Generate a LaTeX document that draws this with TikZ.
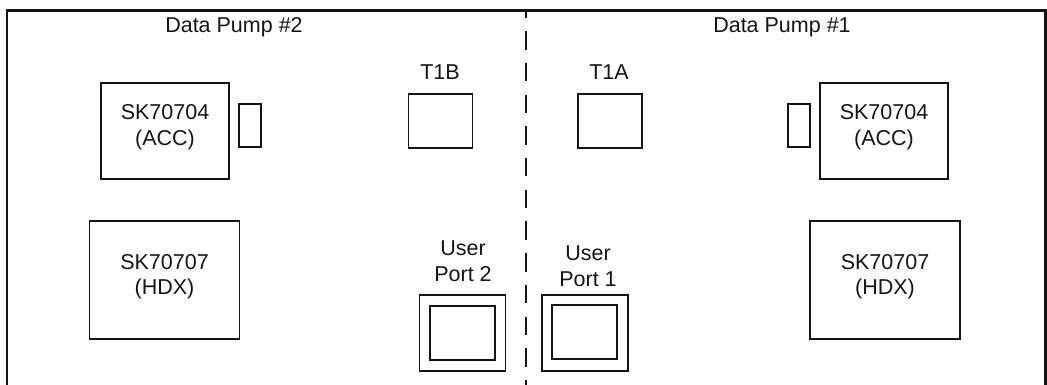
\documentclass[tikz,border=0pt]{standalone}
\usepackage{fontspec}
\setmainfont{Liberation Sans}
\usetikzlibrary{positioning}
\definecolor{Ink}{HTML}{141414}
\tikzset{
  frame/.style={draw=Ink,line width=2.3pt},
  split/.style={draw=Ink,line width=2.3pt,dash pattern=on 18.5pt off 13.2pt,dash phase=11pt},
  chip/.style={rectangle,draw=Ink,line width=1.8pt,inner sep=0pt},
  acc/.style={chip,minimum width=128pt,minimum height=96pt},
  hdx/.style={chip,minimum width=150pt,minimum height=118pt},
  tab/.style={chip,minimum width=22pt,minimum height=43pt},
  xfmr/.style={chip,minimum width=64pt,minimum height=54pt},
  portout/.style={chip,minimum width=86pt,minimum height=76pt},
  portin/.style={chip,minimum width=65pt,minimum height=54pt},
  txt/.style={font=\fontsize{21.5}{25.5}\selectfont,text=Ink,align=center,inner sep=0pt},
  ttl/.style={txt,anchor=base},
}
\begin{document}
\begin{tikzpicture}[x=1pt,y=-1pt]
\useasboundingbox (0,0) rectangle (1047,385);
% -outline and split-
\coordinate (fl) at (6.8,385);
\coordinate (ftl) at (6.8,10.5);
\coordinate (ftr) at (1045.5,10.5);
\coordinate (fr) at (1045.5,385);
\draw[frame] (fl) -- (ftl) -- (ftr) -- (fr);
\coordinate (st) at (525.7,10.5);
\coordinate (sb) at (525.7,386);
\draw[split] (st) -- (sb);
% -pump 2-
\node[ttl] (dp2) at (234,33) {Data Pump \#2};
\node[acc] (acc2) at (165,131) {};
\node[txt] (acc2t) at (165,127) {SK70704\\(ACC)};
\node[tab] (tab2) at (250,125.5) {};
\node[hdx] (hdx2) at (164.5,280) {};
\node[txt] (hdx2t) at (164.5,276.5) {SK70707\\(HDX)};
\node[ttl] (t1bt) at (440,80) {T1B};
\node[xfmr] (t1b) at (440.5,121) {};
\node[txt] (up2t) at (463,261) {User\\Port 2};
\node[portout] (up2o) at (462.5,333) {};
\node[portin] (up2i) at (462.5,333) {};
% -pump 1-
\node[ttl] (dp1) at (782,33) {Data Pump \#1};
\node[ttl] (t1at) at (609,80) {T1A};
\node[xfmr] (t1a) at (610,121) {};
\node[tab] (tab1) at (799,125.5) {};
\node[acc] (acc1) at (884,131) {};
\node[txt] (acc1t) at (884,127) {SK70704\\(ACC)};
\node[hdx] (hdx1) at (885,280) {};
\node[txt] (hdx1t) at (885,276.5) {SK70707\\(HDX)};
\node[txt] (up1t) at (588,266) {User\\Port 1};
\node[portout] (up1o) at (585,333) {};
\node[portin] (up1i) at (584.5,332) {};
\end{tikzpicture}
\end{document}
